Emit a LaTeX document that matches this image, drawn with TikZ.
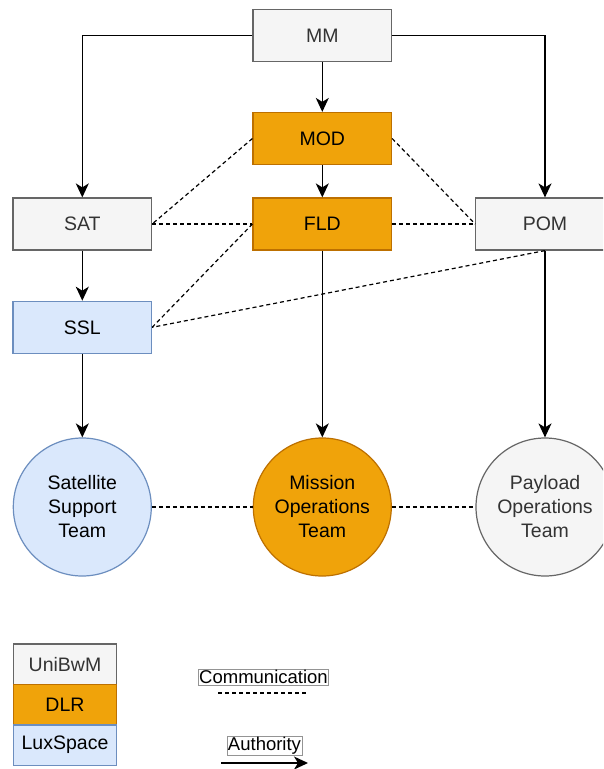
\documentclass[tikz,border=0pt]{standalone}
\usepackage{fontspec}
\setmainfont{Liberation Sans}
\usetikzlibrary{arrows.meta}
\definecolor{gfill}{HTML}{F5F5F5}
\definecolor{gline}{HTML}{666666}
\definecolor{gtext}{HTML}{333333}
\definecolor{ofill}{HTML}{F0A30A}
\definecolor{oline}{HTML}{BD7000}
\definecolor{bfill}{HTML}{DAE8FC}
\definecolor{bline}{HTML}{6C8EBF}
\tikzset{
  box/.style={rectangle, inner sep=0pt, minimum width=138.5pt, minimum height=52pt, line width=1.2pt, font=\fontsize{19.5}{23.5}\selectfont, align=center},
  team/.style={circle, inner sep=0pt, minimum size=138pt, line width=1.2pt, font=\fontsize{19.5}{24}\selectfont, align=center},
  grey/.style={fill=gfill, draw=gline, text=gtext},
  orange/.style={fill=ofill, draw=oline, text=black},
  blue/.style={fill=bfill, draw=bline, text=black},
  auth/.style={line width=1.5pt, -{Stealth[length=14pt,width=13pt,inset=4pt]}},
  comm/.style={line width=1.2pt, dash pattern=on 4pt off 3pt},
  legbox/.style={rectangle, inner sep=0pt, minimum width=103pt, minimum height=40.5pt, line width=1.2pt, font=\fontsize{19.5}{23}\selectfont},
  leglabel/.style={rectangle, draw=gline!70, line width=0.6pt, fill=white, inner sep=1pt, font=\fontsize{18.5}{21}\selectfont}
}
\begin{document}
\begin{tikzpicture}[x=1pt, y=-1pt]
\useasboundingbox (0,0) rectangle (603,769);
\fill[white] (0,0) rectangle (603,769);
\begin{scope}
\clip (0,0) rectangle (603,769);
% nodes
\node[box, grey] (mm) at (322.3,35.3) {MM};
\node[box, orange] (mod) at (322.3,138.5) {MOD};
\node[box, orange] (fld) at (322.3,224) {FLD};
\node[box, grey] (sat) at (82.3,224) {SAT};
\node[box, grey] (pom) at (545,224) {POM};
\node[box, blue] (ssl) at (82.3,327.3) {SSL};
\node[team, blue] (sst) at (82.3,507) {Satellite\\Support\\Team};
\node[team, orange] (mot) at (322.3,507) {Mission\\Operations\\Team};
\node[team, grey] (pot) at (545,507) {Payload\\Operations\\Team};
% authority
\draw[auth] (mm.west) -| (sat.north);
\draw[auth] (mm.east) -| (pom.north);
\draw[auth] (mm) -- (mod);
\draw[auth] (mod) -- (fld);
\draw[auth] (sat) -- (ssl);
\draw[auth] (ssl) -- (sst);
\draw[auth] (fld) -- (mot);
\draw[auth] (pom) -- (pot);
% communication
\draw[comm] (mod.west) -- (sat.east);
\draw[comm] (mod.east) -- (pom.west);
\draw[comm] (sat.east) -- (fld.west);
\draw[comm] (fld.east) -- (pom.west);
\draw[comm] (fld.west) -- (ssl.east);
\draw[comm] (pom.south) -- (ssl.east);
\draw[comm] (sst.east) -- (mot.west);
\draw[comm] (mot.east) -- (pot.west);
\end{scope}
% legend
\node[legbox, grey] (l1) at (65,664.2) {UniBwM};
\node[legbox, orange] (l2) at (65,704.7) {DLR};
\node[legbox, blue] (l3) at (65,745.2) {LuxSpace};
\node[leglabel] (lc) at (263.5,677) {Communication};
\coordinate (c1) at (218,693);
\coordinate (c2) at (306,693);
\draw[comm] (c1) -- (c2);
\node[leglabel] (la) at (264.5,746) {Authority};
\coordinate (a1) at (221,763);
\coordinate (a2) at (308,763);
\draw[auth] (a1) -- (a2);
\end{tikzpicture}
\end{document}
